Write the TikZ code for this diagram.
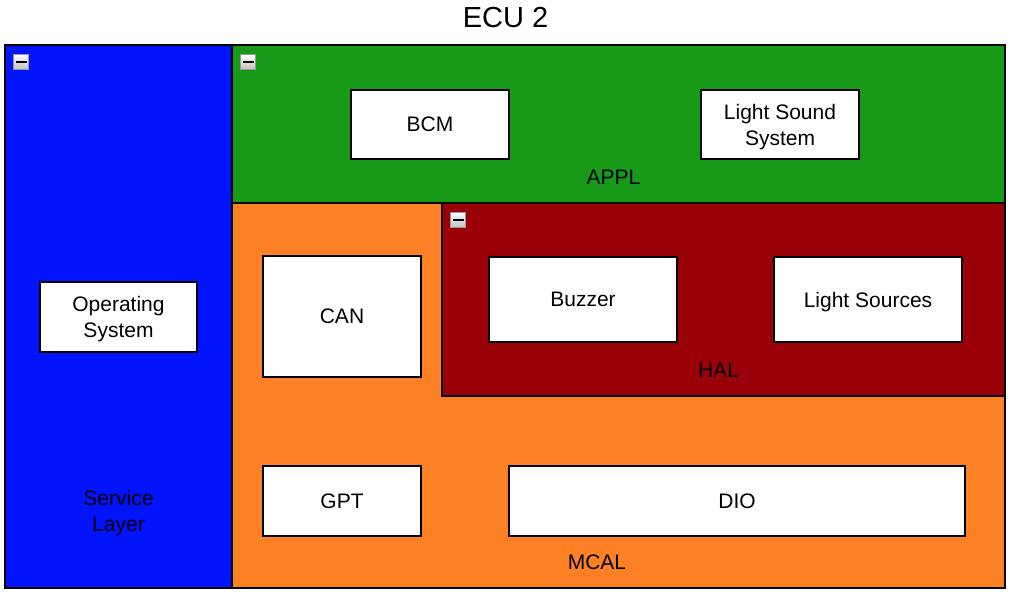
\documentclass[tikz,border=0pt]{standalone}
\usepackage{fontspec}
\setmainfont{Liberation Sans}

\begin{document}
\begin{tikzpicture}[x=1pt,y=-1pt,
	region/.style={draw=black, line width=1.2pt, rectangle, inner sep=0pt},
	unit/.style={draw=black, line width=1.5pt, fill=white, rectangle, inner sep=0pt, text depth=0pt, align=center, font=\fontsize{21}{26}\selectfont},
	tag/.style={inner sep=0pt, text depth=0pt, align=center, font=\fontsize{21}{26}\selectfont},
	minus/.style={draw=black!40, line width=1pt, rectangle, inner sep=0pt, minimum size=15pt, top color=white, bottom color=black!25,
		path picture={\fill[black] ([xshift=-5.5pt,yshift=-1.4pt]path picture bounding box.center) rectangle ([xshift=5.5pt,yshift=1.4pt]path picture bounding box.center);}}
	]

	% colours of the layers
	\definecolor{svcBlue}{RGB}{2,20,252}
	\definecolor{applGreen}{RGB}{24,153,24}
	\definecolor{mcalOrange}{RGB}{253,129,36}
	\definecolor{halRed}{RGB}{153,0,8}

	% keep the page as large as the picture
	\useasboundingbox (0,0) rectangle (1011,597);

	% title
	\node[inner sep=0pt, text depth=0pt, font=\fontsize{29}{32}\selectfont] (title) at (505.5,17) {ECU 2};

	% the layers, back to front
	\node[region, fill=svcBlue, minimum width=227pt, minimum height=543pt] (svc) at (118.5,316.5) {};
	\node[region, fill=applGreen, minimum width=773pt, minimum height=158pt] (appl) at (618.5,124) {};
	\node[region, fill=mcalOrange, minimum width=773pt, minimum height=385pt] (mcal) at (618.5,395.5) {};
	\node[region, fill=halRed, minimum width=563pt, minimum height=193pt] (hal) at (723.5,299.5) {};

	% collapse buttons
	\node[minus] (svcMinus) at (21,62) {};
	\node[minus] (applMinus) at (248,62) {};
	\node[minus] (halMinus) at (458,220) {};

	% layer names
	\node[tag] (svcName) at (118.5,511) {Service\\Layer};
	\node[tag] (applName) at (613.5,177) {APPL};
	\node[tag] (halName) at (718.5,370) {HAL};
	\node[tag] (mcalName) at (597,562) {MCAL};

	% service layer
	\node[unit, minimum width=157pt, minimum height=70pt] (os) at (118.5,317) {Operating\\System};
	% application
	\node[unit, minimum width=158pt, minimum height=69pt] (bcm) at (430,124.5) {BCM};
	\node[unit, minimum width=158pt, minimum height=69pt] (lss) at (780,124.5) {Light Sound\\System};
	% hardware abstraction
	\node[unit, minimum width=188pt, minimum height=85pt] (buzzer) at (583,299.5) {Buzzer};
	\node[unit, minimum width=188pt, minimum height=85pt] (lights) at (868,299.5) {Light Sources};
	% microcontroller abstraction
	\node[unit, minimum width=158pt, minimum height=121pt] (can) at (342,316.5) {CAN};
	\node[unit, minimum width=158pt, minimum height=70pt] (gpt) at (342,501) {GPT};
	\node[unit, minimum width=456pt, minimum height=70pt] (dio) at (737,501) {DIO};

\end{tikzpicture}
\end{document}
